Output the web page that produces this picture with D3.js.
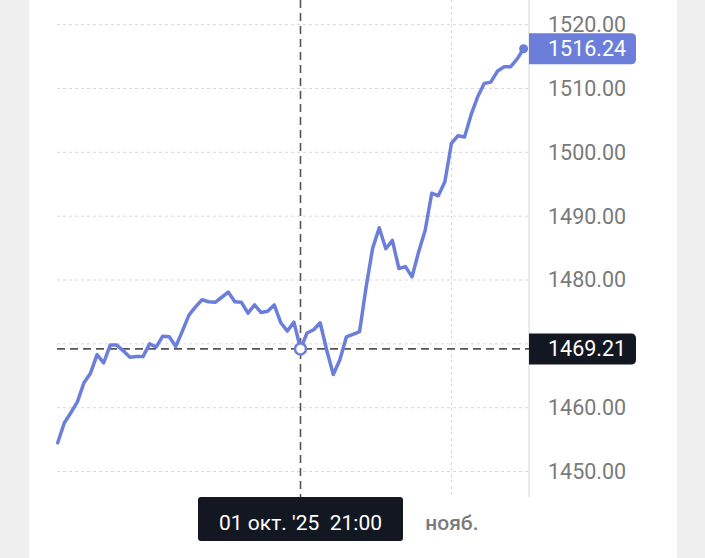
<!DOCTYPE html>
<html>
<head>
<meta charset="utf-8">
<script src="https://cdn.jsdelivr.net/npm/d3@7"></script>
<style>
  html, body { margin: 0; padding: 0; background: #efefef; }
  svg { display: block; }
  text { font-family: Roboto, "Noto Sans", sans-serif; }
</style>
</head>
<body>
<svg id="chart" width="705" height="558"></svg>
<script>
const dates = [
  "2025-08-11","2025-08-12","2025-08-13","2025-08-14","2025-08-15","2025-08-18","2025-08-19","2025-08-20","2025-08-21","2025-08-22",
  "2025-08-25","2025-08-26","2025-08-27","2025-08-28","2025-08-29","2025-09-01","2025-09-02","2025-09-03","2025-09-04","2025-09-05",
  "2025-09-08","2025-09-09","2025-09-10","2025-09-11","2025-09-12","2025-09-15","2025-09-16","2025-09-17","2025-09-18","2025-09-19",
  "2025-09-22","2025-09-23","2025-09-24","2025-09-25","2025-09-26","2025-09-29","2025-09-30","2025-10-01","2025-10-02","2025-10-03",
  "2025-10-06","2025-10-07","2025-10-08","2025-10-09","2025-10-10","2025-10-13","2025-10-14","2025-10-15","2025-10-16","2025-10-17",
  "2025-10-20","2025-10-21","2025-10-22","2025-10-23","2025-10-24","2025-10-27","2025-10-28","2025-10-29","2025-10-30","2025-10-31",
  "2025-11-03","2025-11-04","2025-11-05","2025-11-06","2025-11-07","2025-11-10","2025-11-11","2025-11-12","2025-11-13","2025-11-14",
  "2025-11-17","2025-11-18"
];
const values = [
  1454.5,1457.6,1459.2,1460.9,1463.9,1465.4,1468.3,1467.0,1469.8,1469.8,
  1468.9,1467.9,1468.0,1468.0,1470.0,1469.5,1471.2,1471.1,1469.6,1472.0,
  1474.5,1475.8,1476.9,1476.6,1476.5,1477.3,1478.1,1476.6,1476.5,1474.8,
  1476.1,1474.9,1475.1,1476.1,1473.3,1472.0,1473.4,1469.21,1471.7,1472.2,
  1473.3,1469.0,1465.2,1467.5,1471.1,1471.5,1471.9,1478.9,1485.0,1488.2,
  1484.9,1486.2,1481.8,1482.1,1480.5,1484.4,1487.8,1493.6,1493.2,1495.4,
  1501.4,1502.6,1502.4,1505.9,1508.7,1510.8,1511.0,1512.7,1513.4,1513.4,
  1514.6,1516.24
];
const yGridTicks = [1450, 1460, 1470, 1480, 1490, 1500, 1510, 1520];
// 1470.00 is hidden under the crosshair price label in the reference
const yLabelTicks = [1450, 1460, 1480, 1490, 1500, 1510, 1520];
const xTicks = ["2025-11-03"];
const xTickLabels = ["нояб."];
const crosshairDate = "2025-10-01";
const crosshairLabel = "01 окт. '25  21:00";
const lastDate = dates[dates.length - 1];

const W = 705, H = 558;
const panelLeft = 29, panelRight = 677;
const plotLeft = 57, axisX = 529, plotBottom = 497;
const lineColor = "#6b7fda";

const svg = d3.select("#chart");
svg.append("rect").attr("x", 0).attr("y", 0).attr("width", W).attr("height", H).attr("fill", "#efefef");
svg.append("rect").attr("x", panelLeft).attr("y", 0).attr("width", panelRight - panelLeft).attr("height", H).attr("fill", "#ffffff");

const x = d3.scalePoint().domain(dates).range([57.7, 523.6]);
const y = d3.scaleLinear().domain([1450, 1520]).range([471.5, 24.7]);

// horizontal grid
svg.append("g").selectAll("line").data(yGridTicks).join("line")
  .attr("x1", plotLeft).attr("x2", axisX)
  .attr("y1", d => y(d)).attr("y2", d => y(d))
  .attr("stroke", "#d8d8d8").attr("stroke-width", 1).attr("stroke-dasharray", "3,3");

// vertical grid
svg.append("g").selectAll("line").data(xTicks).join("line")
  .attr("x1", d => x(d)).attr("x2", d => x(d))
  .attr("y1", 0).attr("y2", plotBottom)
  .attr("stroke", "#d8d8d8").attr("stroke-width", 1).attr("stroke-dasharray", "3,3");

// y axis line
svg.append("line").attr("x1", axisX).attr("x2", axisX).attr("y1", 0).attr("y2", plotBottom)
  .attr("stroke", "#d4d4d4").attr("stroke-width", 1);

// y axis labels
const yAxis = d3.axisRight(y).tickValues(yLabelTicks).tickFormat(d3.format(".2f")).tickSize(0).tickPadding(19);
const gy = svg.append("g").attr("transform", `translate(${axisX},0)`).call(yAxis);
gy.select(".domain").remove();
gy.selectAll("text").attr("fill", "#7a7a7a").style("font-size", "21.5px").style("font-family", "Roboto, sans-serif");

// x axis labels
const xAxis = d3.axisBottom(x).tickValues(xTicks).tickFormat((d, i) => xTickLabels[i]).tickSize(0).tickPadding(18);
const gx = svg.append("g").attr("transform", `translate(0,${plotBottom})`).call(xAxis);
gx.select(".domain").remove();
gx.selectAll("text").attr("fill", "#7a7a7a").style("font-size", "21px").style("font-weight", "500").style("font-family", "Roboto, sans-serif");

// crosshair
const cx = x(crosshairDate);
const cv = values[dates.indexOf(crosshairDate)];
svg.append("line").attr("x1", plotLeft).attr("x2", axisX).attr("y1", y(cv)).attr("y2", y(cv))
  .attr("stroke", "#555").attr("stroke-width", 1.6).attr("stroke-dasharray", "8,5");
svg.append("line").attr("x1", cx).attr("x2", cx).attr("y1", 0).attr("y2", plotBottom)
  .attr("stroke", "#555").attr("stroke-width", 1.6).attr("stroke-dasharray", "8,5");

// line
const line = d3.line().x((d, i) => x(dates[i])).y(d => y(d)).curve(d3.curveLinear);
svg.append("path").datum(values).attr("d", line)
  .attr("fill", "none").attr("stroke", lineColor).attr("stroke-width", 3.5)
  .attr("stroke-linejoin", "round").attr("stroke-linecap", "round");

// crosshair circle
svg.append("circle").attr("cx", cx).attr("cy", y(cv)).attr("r", 5.5)
  .attr("fill", "#fff").attr("stroke", lineColor).attr("stroke-width", 2.5);

// last point dot
const lv = values[values.length - 1];
svg.append("circle").attr("cx", x(lastDate)).attr("cy", y(lv)).attr("r", 4.5).attr("fill", lineColor);

// price label helper
function priceLabel(v, fill) {
  const g = svg.append("g").attr("transform", `translate(${axisX},${y(v)})`);
  g.append("path")
    .attr("d", "M0,-15.5 H102 Q107,-15.5 107,-10.5 V10.5 Q107,15.5 102,15.5 H0 Z")
    .attr("fill", fill);
  g.append("text").attr("x", 19).attr("y", 0).attr("dy", "0.35em")
    .attr("fill", "#fff").style("font-size", "21.5px").text(d3.format(".2f")(v));
}
priceLabel(lv, lineColor);
priceLabel(cv, "#131722");

// crosshair time label
const tg = svg.append("g").attr("transform", `translate(${cx},${plotBottom})`);
tg.append("rect").attr("x", -102.5).attr("y", 0).attr("width", 205).attr("height", 44).attr("rx", 3)
  .attr("fill", "#131722");
tg.append("text").attr("x", 0).attr("y", 26).attr("dy", "0.35em").attr("text-anchor", "middle")
  .attr("fill", "#fff").style("font-size", "21px").style("white-space", "pre").text(crosshairLabel);
</script>
</body>
</html>
